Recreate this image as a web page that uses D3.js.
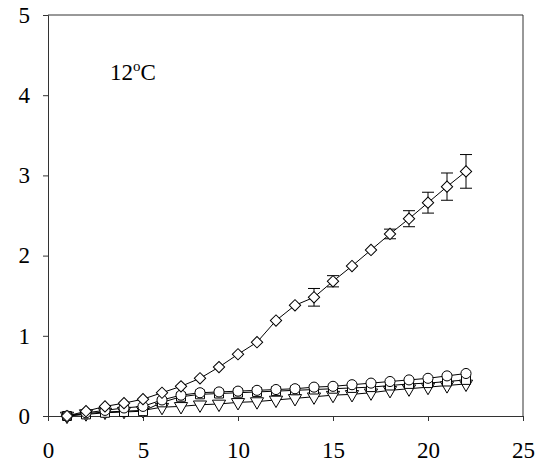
<!DOCTYPE html>
<html>
<head>
<meta charset="utf-8">
<script src="https://cdn.jsdelivr.net/npm/d3@7"></script>
<style>
  body { margin: 0; background: #fff; }
  text { font-family: "Liberation Serif", "Times New Roman", serif; }
</style>
</head>
<body>
<div class="chart"></div>
<script>
let days = [1, 2, 3, 4, 5, 6, 7, 8, 9, 10, 11, 12, 13, 14, 15, 16, 17, 18, 19, 20, 21, 22];

let diamondValues = [0, 0.06, 0.12, 0.16, 0.21, 0.29, 0.37, 0.47, 0.61, 0.77, 0.92, 1.19, 1.38, 1.48, 1.68, 1.87, 2.07, 2.27, 2.46, 2.66, 2.86, 3.05];
let diamondErrors = [0, 0, 0, 0, 0, 0, 0, 0, 0, 0, 0, 0, 0, 0.11, 0.07, 0, 0, 0.06, 0.1, 0.13, 0.17, 0.21];
let circleValues = [0, 0.04, 0.07, 0.1, 0.12, 0.2, 0.26, 0.29, 0.3, 0.31, 0.32, 0.33, 0.34, 0.36, 0.37, 0.39, 0.41, 0.43, 0.45, 0.47, 0.5, 0.53];
let squareValues = [0, 0.02, 0.04, 0.05, 0.06, 0.17, 0.24, 0.27, 0.28, 0.29, 0.3, 0.31, 0.32, 0.33, 0.34, 0.35, 0.36, 0.38, 0.4, 0.41, 0.43, 0.45];
let triangleValues = [0, 0.03, 0.05, 0.06, 0.07, 0.11, 0.12, 0.14, 0.15, 0.17, 0.18, 0.2, 0.22, 0.24, 0.26, 0.27, 0.29, 0.32, 0.34, 0.36, 0.38, 0.40];

let xTicks = [0, 5, 10, 15, 20, 25];
let yTicks = [0, 1, 2, 3, 4, 5];

let width = 544, height = 471;
let margin = {left: 48, top: 15, right: 21, bottom: 55};
let innerW = width - margin.left - margin.right;
let innerH = height - margin.top - margin.bottom;

let svg = d3.select(".chart")
    .append("svg")
    .attr("width", width)
    .attr("height", height);

let g = svg.append("g")
    .attr("transform", "translate(" + margin.left + "," + margin.top + ")");

let xScale = d3.scaleLinear().domain([0, 25]).range([0, innerW]);
let yScale = d3.scaleLinear().domain([0, 5]).range([innerH, 0]);

// frame
g.append("line").attr("x1", 0).attr("x2", innerW).attr("y1", 0).attr("y2", 0)
    .attr("stroke", "#333");
g.append("line").attr("x1", innerW).attr("x2", innerW).attr("y1", 0).attr("y2", innerH)
    .attr("stroke", "#333");

let x_axis = d3.axisBottom(xScale).tickValues(xTicks).tickSize(5).tickPadding(21)
    .tickFormat(d3.format("d"));
let y_axis = d3.axisLeft(yScale).tickValues(yTicks).tickSize(5).tickPadding(13)
    .tickFormat(d3.format("d"));

let xg = g.append("g").attr("transform", "translate(0," + innerH + ")").call(x_axis);
let yg = g.append("g").call(y_axis);

[xg, yg].forEach(a => {
    a.attr("font-family", null).attr("font-size", null);
    a.select(".domain").attr("stroke", "#333");
    a.selectAll(".tick line").attr("stroke", "#333");
    a.selectAll("text").attr("font-size", 23).attr("fill", "#000")
        .style("font-family", "'Liberation Serif', serif");
});

let line = d3.line()
    .x((d, i) => xScale(days[i]))
    .y(d => yScale(d));

let series = [
    {values: triangleValues, shape: d3.symbolTriangle, size: 75, rotate: 180},
    {values: squareValues, shape: d3.symbolSquare, size: 80, rotate: 0},
    {values: circleValues, shape: d3.symbolCircle, size: 80, rotate: 0},
    {values: diamondValues, shape: d3.symbolSquare, size: 64, rotate: 45}
];

series.forEach(s => {
    g.append("path")
        .datum(s.values)
        .attr("d", line)
        .attr("fill", "none")
        .attr("stroke", "#000")
        .attr("stroke-width", 1);
});

// error bars on diamond series
let errData = days.map((d, i) => ({x: d, y: diamondValues[i], e: diamondErrors[i]}))
    .filter(d => d.e > 0);
let eb = g.selectAll(".err").data(errData).enter().append("g").attr("class", "err");
eb.append("line")
    .attr("x1", d => xScale(d.x)).attr("x2", d => xScale(d.x))
    .attr("y1", d => yScale(d.y + d.e)).attr("y2", d => yScale(d.y - d.e))
    .attr("stroke", "#000");
eb.append("line")
    .attr("x1", d => xScale(d.x) - 6).attr("x2", d => xScale(d.x) + 6)
    .attr("y1", d => yScale(d.y + d.e)).attr("y2", d => yScale(d.y + d.e))
    .attr("stroke", "#000");
eb.append("line")
    .attr("x1", d => xScale(d.x) - 6).attr("x2", d => xScale(d.x) + 6)
    .attr("y1", d => yScale(d.y - d.e)).attr("y2", d => yScale(d.y - d.e))
    .attr("stroke", "#000");

series.forEach(s => {
    let sym = d3.symbol().type(s.shape).size(s.size);
    g.append("g").selectAll("path")
        .data(s.values)
        .enter()
        .append("path")
        .attr("d", sym)
        .attr("transform", (d, i) => "translate(" + xScale(days[i]) + "," + yScale(d) + ") rotate(" + s.rotate + ")")
        .attr("fill", "#fff")
        .attr("stroke", "#000")
        .attr("stroke-width", 1);
});

// temperature label
let label = svg.append("text")
    .attr("x", 110)
    .attr("y", 80)
    .attr("font-size", 23)
    .attr("fill", "#000");
label.append("tspan").text("12");
label.append("tspan").attr("font-size", 15).attr("dy", -9).text("o");
label.append("tspan").attr("dy", 9).text("C");
</script>
</body>
</html>
